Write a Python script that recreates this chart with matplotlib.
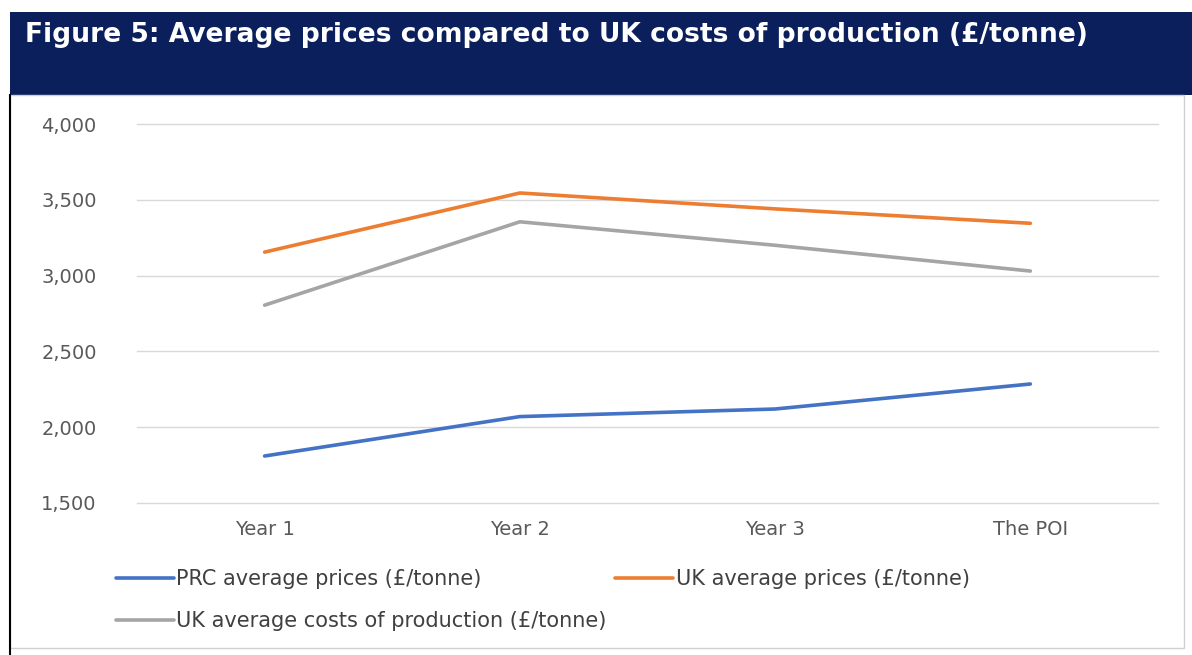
import matplotlib
matplotlib.use("Agg")
import matplotlib.pyplot as plt
from matplotlib.patches import Rectangle
from matplotlib.lines import Line2D
from matplotlib.ticker import FuncFormatter

categories = ["Year 1", "Year 2", "Year 3", "The POI"]
prc_prices = [1810, 2070, 2120, 2285]
uk_prices = [3155, 3545, 3440, 3345]
uk_costs = [2805, 3355, 3200, 3030]
series_labels = ["PRC average prices (£/tonne)", "UK average prices (£/tonne)",
                 "UK average costs of production (£/tonne)"]
title = "Figure 5: Average prices compared to UK costs of production (£/tonne)"

W, H = 1192, 655
plt.rcParams['font.family'] = ['DejaVu Sans']
fig = plt.figure(figsize=(W / 100, H / 100), dpi=100)

def fx(px):
    return px / W

def fy(py):
    return 1 - py / H

# title bar
fig.patches.append(Rectangle((fx(10), fy(95)), 1 - fx(10), fy(12) - fy(95),
                             transform=fig.transFigure, facecolor="#0a1f5c",
                             edgecolor="none", zorder=-2))
fig.text(fx(25), fy(35), title, color="white", fontsize=19.1, fontweight="bold",
         ha="left", va="center")
# white panel borders
fig.patches.append(Rectangle((fx(10), fy(648)), fx(1184) - fx(10), fy(95) - fy(648),
                             transform=fig.transFigure, facecolor="white",
                             edgecolor="#d0d0d0", linewidth=1, zorder=-2))
fig.add_artist(Line2D([fx(10), fx(10)], [fy(95), fy(655)], color="black",
                      linewidth=1.5, transform=fig.transFigure))

ax = fig.add_axes([fx(137), fy(503), fx(1158) - fx(137), fy(124) - fy(503)])
ax.set_zorder(2)
ax.set_facecolor("none")
x = [i + 0.5 for i in range(len(categories))]
colors = ["#4472C4", "#ED7D31", "#A5A5A5"]
lines = []
for vals, c, lab in zip([prc_prices, uk_prices, uk_costs], colors, series_labels):
    ln, = ax.plot(x, vals, color=c, linewidth=2.6, solid_capstyle="round", label=lab, zorder=3)
    lines.append(ln)

ax.set_xlim(0, len(categories))
ax.set_ylim(1500, 4000)
ax.set_yticks([1500, 2000, 2500, 3000, 3500, 4000])
ax.yaxis.set_major_formatter(FuncFormatter(lambda v, p: f"{int(v):,}"))
ax.set_xticks(x)
ax.set_xticklabels(categories)
ax.grid(axis="y", color="#d9d9d9", linewidth=1)
for gl in ax.get_ygridlines():
    gl.set_clip_on(False)
ax.set_axisbelow(True)
for s in ax.spines.values():
    s.set_visible(False)
ax.tick_params(axis="both", length=0, labelsize=14, labelcolor="#595959")
ax.tick_params(axis="y", pad=29)
ax.tick_params(axis="x", pad=12)

order = [0, 2, 1]
leg = fig.legend([lines[i] for i in order], [series_labels[i] for i in order],
                 loc="upper left", bbox_to_anchor=(fx(116), fy(569)),
                 ncol=2, frameon=False, fontsize=15, handlelength=2.8,
                 handletextpad=0.1, columnspacing=0.4, labelspacing=1.05,
                 borderaxespad=0, borderpad=0)
for t in leg.get_texts():
    t.set_color("#404040")

fig.savefig("out.png", dpi=100, facecolor="white")
